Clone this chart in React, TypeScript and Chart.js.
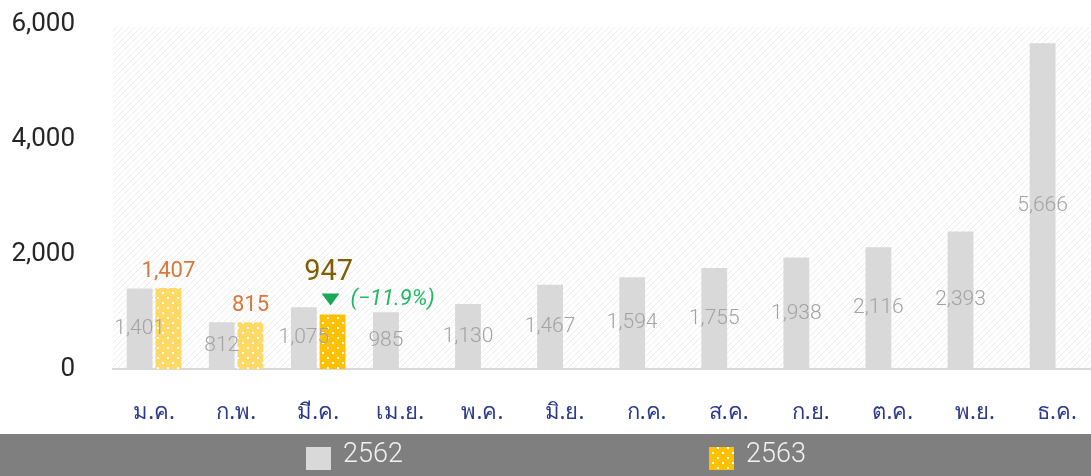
import { useEffect, useRef } from "react";
import { Chart, registerables } from "chart.js";

Chart.register(...registerables);

const categories = ["ม.ค.", "ก.พ.", "มี.ค.", "เม.ย.", "พ.ค.", "มิ.ย.", "ก.ค.", "ส.ค.", "ก.ย.", "ต.ค.", "พ.ย.", "ธ.ค."];
const seriesLabels = ["2562", "2563"];
const values2562 = [1401, 812, 1075, 985, 1130, 1467, 1594, 1755, 1938, 2116, 2393, 5666];
const values2563: (number | null)[] = [1407, 815, 947, null, null, null, null, null, null, null, null, null];
const yTickValues = [0, 2000, 4000, 6000];
const changeText = "(−11.9%)";

const fmt = (v: number) => v.toLocaleString("en-US");

function dotPattern(base: string): CanvasPattern | string {
  const c = document.createElement("canvas");
  c.width = 10;
  c.height = 10;
  const g = c.getContext("2d");
  if (!g) return base;
  g.fillStyle = base;
  g.fillRect(0, 0, 10, 10);
  g.fillStyle = "rgba(255,255,255,0.95)";
  g.fillRect(2, 2, 2, 2);
  g.fillRect(7, 7, 2, 2);
  const p = g.createPattern(c, "repeat");
  return p || base;
}

function hatchPattern(): CanvasPattern | string {
  const c = document.createElement("canvas");
  c.width = 6;
  c.height = 6;
  const g = c.getContext("2d");
  if (!g) return "#fafafa";
  g.fillStyle = "#ffffff";
  g.fillRect(0, 0, 6, 6);
  g.strokeStyle = "#ececec";
  g.lineWidth = 1;
  g.beginPath();
  g.moveTo(-1, 7);
  g.lineTo(7, -1);
  g.moveTo(-1, 1);
  g.lineTo(1, -1);
  g.moveTo(5, 7);
  g.lineTo(7, 5);
  g.stroke();
  const p = g.createPattern(c, "repeat");
  return p || "#fafafa";
}

export default function App() {
  const ref = useRef<HTMLCanvasElement | null>(null);

  useEffect(() => {
    if (!ref.current) return;
    const lightYellow = dotPattern("#ffd966");
    const strongYellow = dotPattern("#ffc000");
    const hatch = hatchPattern();
    const lastIdx = values2563.reduce((acc: number, v, i) => (v != null ? i : acc), -1);
    const yellowFills = values2563.map((_, i) => (i === lastIdx ? strongYellow : lightYellow));

    const bgPlugin = {
      id: "bgHatch",
      beforeDraw(chart: any) {
        const { ctx, chartArea } = chart;
        ctx.save();
        ctx.fillStyle = hatch;
        ctx.fillRect(chartArea.left, chartArea.top + 3, chartArea.right - chartArea.left, chartArea.bottom - chartArea.top - 3);
        ctx.restore();
      },
    };

    const labelPlugin = {
      id: "valueLabels",
      afterDatasetsDraw(chart: any) {
        const { ctx } = chart;
        ctx.save();
        ctx.textAlign = "center";
        ctx.textBaseline = "middle";
        const m0 = chart.getDatasetMeta(0);
        m0.data.forEach((bar: any, i: number) => {
          const v = values2562[i];
          ctx.font = "300 21px Roboto, 'Noto Sans', sans-serif";
          ctx.fillStyle = "#a3a3a3";
          ctx.fillText(fmt(v), bar.x, (bar.y + bar.base) / 2);
        });
        const m1 = chart.getDatasetMeta(1);
        m1.data.forEach((bar: any, i: number) => {
          const v = values2563[i];
          if (v == null) return;
          if (i !== lastIdx) {
            ctx.font = "400 22px Roboto, 'Noto Sans', sans-serif";
            ctx.fillStyle = "#d9773b";
            ctx.textAlign = "center";
            ctx.fillText(fmt(v), bar.x, bar.y - 17);
          } else {
            ctx.font = "400 29px Roboto, 'Noto Sans', sans-serif";
            ctx.fillStyle = "#7f6000";
            ctx.textAlign = "center";
            ctx.fillText(fmt(v), bar.x - 4, bar.y - 42);
            const tx = bar.x - 2;
            const ty = bar.y - 15;
            ctx.fillStyle = "#17a957";
            ctx.beginPath();
            ctx.moveTo(tx - 9, ty - 6);
            ctx.lineTo(tx + 9, ty - 6);
            ctx.lineTo(tx, ty + 6);
            ctx.closePath();
            ctx.fill();
            ctx.font = "italic 400 22px Roboto, 'Noto Sans', sans-serif";
            ctx.fillStyle = "#1fb864";
            ctx.textAlign = "left";
            ctx.fillText(changeText, bar.x + 18, ty);
          }
        });
        ctx.restore();
      },
    };

    const legendPlugin = {
      id: "bandLegend",
      afterDraw(chart: any) {
        const { ctx, width, height } = chart;
        const bandTop = 434;
        ctx.save();
        ctx.fillStyle = "#7f7f7f";
        ctx.fillRect(0, bandTop, width, height - bandTop);
        const xs = [306, 709];
        const fills = ["#d9d9d9", dotPattern("#ffc000")];
        seriesLabels.forEach((lab, i) => {
          ctx.fillStyle = fills[i];
          ctx.fillRect(xs[i], 447, 25, 23);
          ctx.font = "300 27px Roboto, 'Noto Sans', sans-serif";
          ctx.fillStyle = "#f2f2f2";
          ctx.textAlign = "left";
          ctx.textBaseline = "middle";
          ctx.fillText(lab, xs[i] + 37, 455);
        });
        ctx.restore();
      },
    };

    const chart = new Chart(ref.current, {
      type: "bar",
      data: {
        labels: categories,
        datasets: [
          {
            label: seriesLabels[0],
            data: values2562,
            backgroundColor: "#d9d9d9",
            categoryPercentage: 0.7,
            barPercentage: 0.9,
          },
          {
            label: seriesLabels[1],
            data: values2563 as any,
            backgroundColor: yellowFills as any,
            categoryPercentage: 0.7,
            barPercentage: 0.9,
          },
        ],
      },
      options: {
        responsive: false,
        animation: false,
        devicePixelRatio: 1,
        layout: { padding: { left: 0, right: 2, top: 24, bottom: 42 } },
        plugins: {
          legend: { display: false },
          tooltip: { enabled: false },
        },
        scales: {
          x: {
            grid: { display: false, drawTicks: false },
            border: { display: true, color: "#d9d9d9", width: 2 },
            ticks: {
              color: "#2b3a8f",
              font: { size: 22, family: "'Noto Sans', sans-serif" },
              padding: 31,
              maxRotation: 0,
              autoSkip: false,
            },
            afterFit(scale: any) {
              scale.height = 65;
              scale.paddingLeft = 0;
              scale.paddingRight = 0;
            },
          },
          y: {
            min: 0,
            max: 6000,
            grid: { display: false, drawTicks: false },
            border: { display: false },
            ticks: {
              color: "#262626",
              font: { size: 26, family: "Roboto, 'Noto Sans', sans-serif" },
              padding: 38,
              callback: (v: any) => fmt(Number(v)),
            },
            afterBuildTicks(scale: any) {
              scale.ticks = yTickValues.map((v) => ({ value: v }));
            },
            afterFit(scale: any) {
              scale.width = 113;
              scale.paddingTop = 0;
              scale.paddingBottom = 0;
            },
          },
        },
      },
      plugins: [bgPlugin, labelPlugin, legendPlugin],
    });
    return () => chart.destroy();
  }, []);

  return (
    <div style={{ position: "fixed", left: 0, top: 0, width: 1091, height: 476, overflow: "hidden", background: "#fff" }}>
      <canvas ref={ref} width={1100} height={476} style={{ display: "block" }} />
    </div>
  );
}
